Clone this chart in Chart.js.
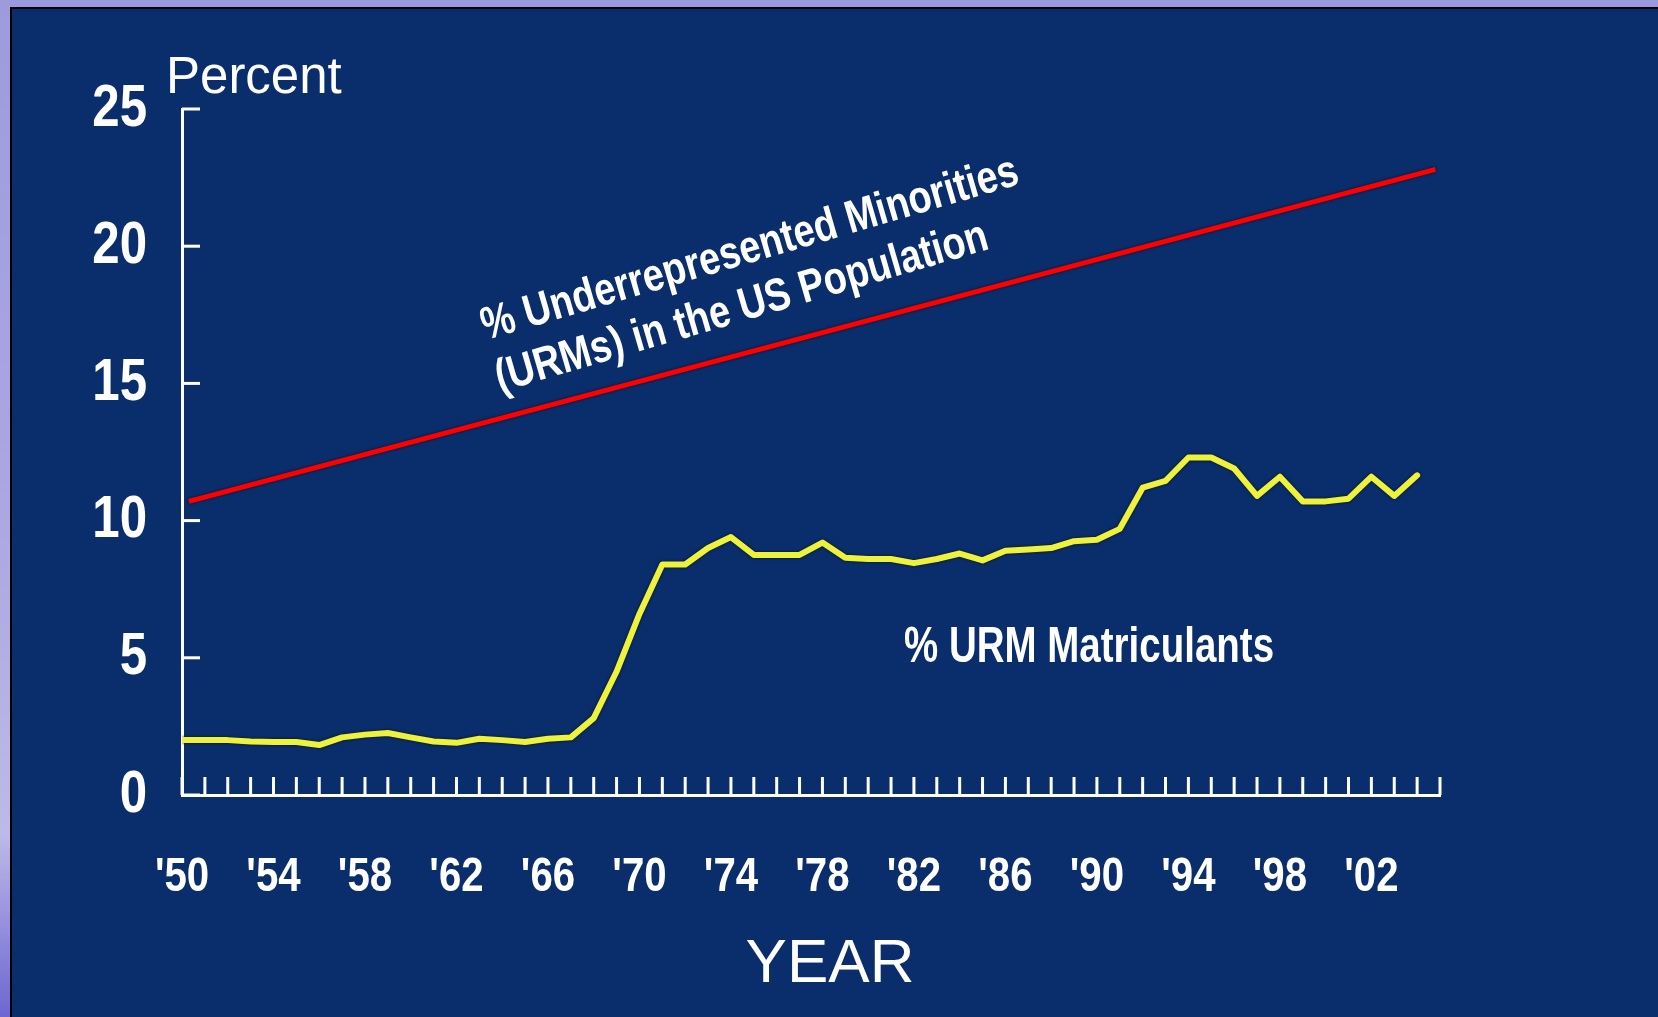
<!DOCTYPE html>
<html>
<head>
<meta charset="utf-8">
<script src="https://cdn.jsdelivr.net/npm/chart.js@4/dist/chart.umd.min.js"></script>
<style>
  html, body { margin:0; padding:0; }
  body { width:1658px; height:1017px; overflow:hidden; background:#0a2d6c; position:relative; }
  .band-top { position:absolute; left:0; top:0; width:1658px; height:7px; background:#9a98de; }
  .band-left { position:absolute; left:0; top:0; width:10px; height:1017px;
    background:linear-gradient(to bottom, #9e9bdc 0%, #aaa7e2 50%, #bdb9e8 82%, #6d66d2 100%); }
  .line-top { position:absolute; left:10px; top:7px; width:1648px; height:2px; background:#000; }
  .line-left { position:absolute; left:10px; top:7px; width:2px; height:1010px; background:#000; }
  #c { position:absolute; left:0; top:0; }
  .txt { position:absolute; color:#ffffff; white-space:nowrap; }
  .reg { font-family:"Liberation Sans", Arial, sans-serif; font-weight:normal; }
  .nb { font-family:"Liberation Sans", Arial, sans-serif; font-weight:bold; }
</style>
</head>
<body>
<div class="band-top"></div>
<div class="band-left"></div>
<div class="line-top"></div>
<div class="line-left"></div>
<canvas id="c" width="1658" height="1017"></canvas>

<div class="txt reg" style="left:166px; top:50px; font-size:51px; line-height:51px;">Percent</div>
<div class="txt reg" style="left:830px; top:930px; font-size:62px; line-height:62px; transform:translateX(-50%);">YEAR</div>
<div class="txt nb" style="left:904px; top:620px; font-size:50px; line-height:50px; transform-origin:0 42px; transform:scaleX(0.77);">% URM Matriculants</div>
<div class="txt nb" style="left:486px; top:301px; font-size:46px; line-height:46px; transform-origin:0 39px; transform:rotate(-16.3deg) scaleX(0.82);">% Underrepresented Minorities</div>
<div class="txt nb" style="left:500px; top:353px; font-size:46px; line-height:46px; transform-origin:0 39px; transform:rotate(-16.3deg) scaleX(0.82);">(URMs) in the US Population</div>

<script>
// ---- data ----
const years = [1950,1951,1952,1953,1954,1955,1956,1957,1958,1959,
               1960,1961,1962,1963,1964,1965,1966,1967,1968,1969,
               1970,1971,1972,1973,1974,1975,1976,1977,1978,1979,
               1980,1981,1982,1983,1984,1985,1986,1987,1988,1989,
               1990,1991,1992,1993,1994,1995,1996,1997,1998,1999,
               2000,2001,2002,2003,2004];
const urmMatriculants = [2.0,2.0,2.0,1.95,1.93,1.93,1.82,2.1,2.2,2.26,
                         2.1,1.95,1.9,2.05,2.0,1.93,2.05,2.1,2.8,4.5,
                         6.6,8.4,8.4,9.0,9.4,8.75,8.75,8.75,9.2,8.65,
                         8.6,8.6,8.45,8.6,8.8,8.55,8.9,8.95,9.0,9.25,
                         9.3,9.7,11.2,11.45,12.3,12.3,11.9,10.9,11.6,10.7,
                         10.7,10.8,11.6,10.9,11.65];
const urmPopYears = [1950.3, 2004.8];
const urmPopValues = [10.7, 22.8];
const tickYears = [1950,1954,1958,1962,1966,1970,1974,1978,1982,1986,1990,1994,1998,2002];
const tickLabels = ["'50","'54","'58","'62","'66","'70","'74","'78","'82","'86","'90","'94","'98","'02"];
const yTicks = [0,5,10,15,20,25];

// Narrow the tick labels horizontally around their own anchor (no narrow font installed)
function condenseLabels(scale, f) {
  if (scale._condensed) return;
  scale._condensed = true;
  const orig = scale.drawLabels.bind(scale);
  scale.drawLabels = function (area) {
    const ctx = this.ctx;
    const ft = CanvasRenderingContext2D.prototype.fillText;
    ctx.fillText = function (t, x, y, mw) {
      this.save(); this.translate(x, y); this.scale(f, 1); ft.call(this, t, 0, 0); this.restore();
    };
    try { orig(area); } finally { delete ctx.fillText; }
  };
}

// ---- plugin: inner tick marks via the scales ----
const innerTicks = {
  id: 'innerTicks',
  afterDraw(chart) {
    const { ctx, scales: { x, y } } = chart;
    ctx.save();
    ctx.strokeStyle = '#ffffff';
    ctx.lineWidth = 3;
    const base = y.getPixelForValue(0);
    x.ticks.forEach((t, i) => {
      const px = x.getPixelForTick(i);
      ctx.beginPath(); ctx.moveTo(px, base); ctx.lineTo(px, base - 18); ctx.stroke();
    });
    const left = x.getPixelForValue(x.min);
    yTicks.forEach(v => {
      const py = y.getPixelForValue(v);
      ctx.beginPath(); ctx.moveTo(left, py); ctx.lineTo(left + 18, py); ctx.stroke();
    });
    ctx.restore();
  }
};

const lineShadow = {
  id: 'lineShadow',
  beforeDatasetDraw(chart) {
    const ctx = chart.ctx;
    ctx.save();
    ctx.shadowColor = 'rgba(0,10,0,0.75)';
    ctx.shadowBlur = 3;
  },
  afterDatasetDraw(chart) { chart.ctx.restore(); }
};

const tickFont = '"Liberation Sans", Arial, sans-serif';

new Chart(document.getElementById('c'), {
  type: 'line',
  data: {
    datasets: [
      {
        label: '% URM Matriculants',
        data: years.map((yr, i) => ({ x: yr, y: urmMatriculants[i] })),
        borderColor: '#eff23a',
        borderWidth: 6,
        pointRadius: 0,
        tension: 0,
        borderJoinStyle: 'round',
        borderCapStyle: 'round'
      },
      {
        label: '% URMs in the US Population',
        data: urmPopYears.map((yr, i) => ({ x: yr, y: urmPopValues[i] })),
        borderColor: '#ff0000',
        borderWidth: 5,
        pointRadius: 0,
        tension: 0
      }
    ]
  },
  options: {
    responsive: false,
    animation: false,
    layout: { padding: { top: 109, right: 218, left: 0, bottom: 0 } },
    plugins: { legend: { display: false }, tooltip: { enabled: false }, title: { display: false } },
    scales: {
      x: {
        type: 'linear',
        min: 1950, max: 2005,
        afterFit(s) { s.height = 222; condenseLabels(s, 0.82); },
        border: { display: true, color: '#ffffff', width: 3 },
        grid: { drawOnChartArea: false, drawTicks: false },
        ticks: {
          stepSize: 1,
          autoSkip: false,
          maxRotation: 0,
          padding: 53,
          color: '#ffffff',
          font: { family: tickFont, weight: 'bold', size: 49 },
          callback: (v) => { const k = tickYears.indexOf(v); return k >= 0 ? tickLabels[k] : ''; }
        }
      },
      y: {
        min: 0, max: 25,
        afterFit(s) { s.width = 182; condenseLabels(s, 0.82); },
        border: { display: true, color: '#ffffff', width: 3 },
        grid: { drawOnChartArea: false, drawTicks: false },
        ticks: {
          stepSize: 5,
          padding: 35,
          color: '#ffffff',
          font: { family: tickFont, weight: 'bold', size: 60 }
        }
      }
    }
  },
  plugins: [innerTicks, lineShadow]
});
</script>
</body>
</html>
